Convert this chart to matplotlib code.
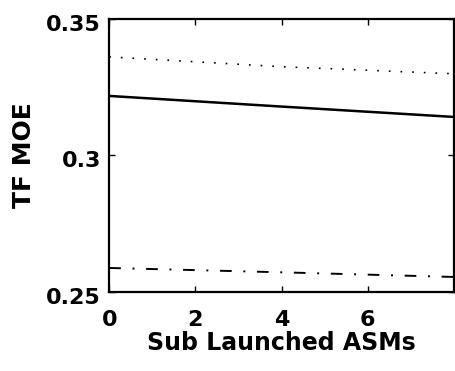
import matplotlib
matplotlib.use("Agg")
import matplotlib.pyplot as plt
from matplotlib.transforms import ScaledTranslation

# TF MOE versus number of sub-launched ASMs, three cases
asms = [0, 4, 8]
moe_upper = [0.3361, 0.3325, 0.3299]
moe_mid = [0.3218, 0.3179, 0.3141]
moe_lower = [0.2588, 0.2572, 0.2555]

x_ticks = [0, 2, 4, 6]
y_ticks = [0.25, 0.30, 0.35]
y_tick_labels = ["0.25", "0.3", "0.35"]

plt.rcParams["font.family"] = ["DejaVu Sans"]
plt.rcParams["font.weight"] = "bold"

fig = plt.figure(figsize=(4.55, 3.71), dpi=100)
ax = fig.add_axes([0.24, 0.213, 0.758, 0.736])

ax.plot(asms, moe_upper, color="black", linewidth=1.2, linestyle=(0, (1, 6)))
ax.plot(asms, moe_mid, color="black", linewidth=1.8)
ax.plot(asms, moe_lower, color="black", linewidth=1.4, linestyle=(0, (6, 6, 1, 6)))

ax.set_xlim(0, 8)
ax.set_ylim(0.25, 0.35)
ax.set_xticks(x_ticks)
ax.set_yticks(y_ticks)
ax.set_yticklabels(y_tick_labels)
ax.tick_params(direction="in", top=True, right=True, length=4, width=1,
               labelsize=16)
ax.tick_params(axis="y", pad=6)
ax.tick_params(axis="x", pad=13)
for label in ax.get_xticklabels():
    label.set_fontweight("bold")
# y tick labels sit a little below their ticks
shift = ScaledTranslation(0, -4 / 100, fig.dpi_scale_trans)
for label in ax.get_yticklabels():
    label.set_fontweight("bold")
    label.set_transform(label.get_transform() + shift)
for spine in ax.spines.values():
    spine.set_linewidth(1.6)

ax.set_xlabel("Sub Launched ASMs", fontsize=17, fontweight="bold", labelpad=1)
ax.set_ylabel("TF MOE", fontsize=18, fontweight="bold", labelpad=7)

fig.savefig("out.png", dpi=100)
